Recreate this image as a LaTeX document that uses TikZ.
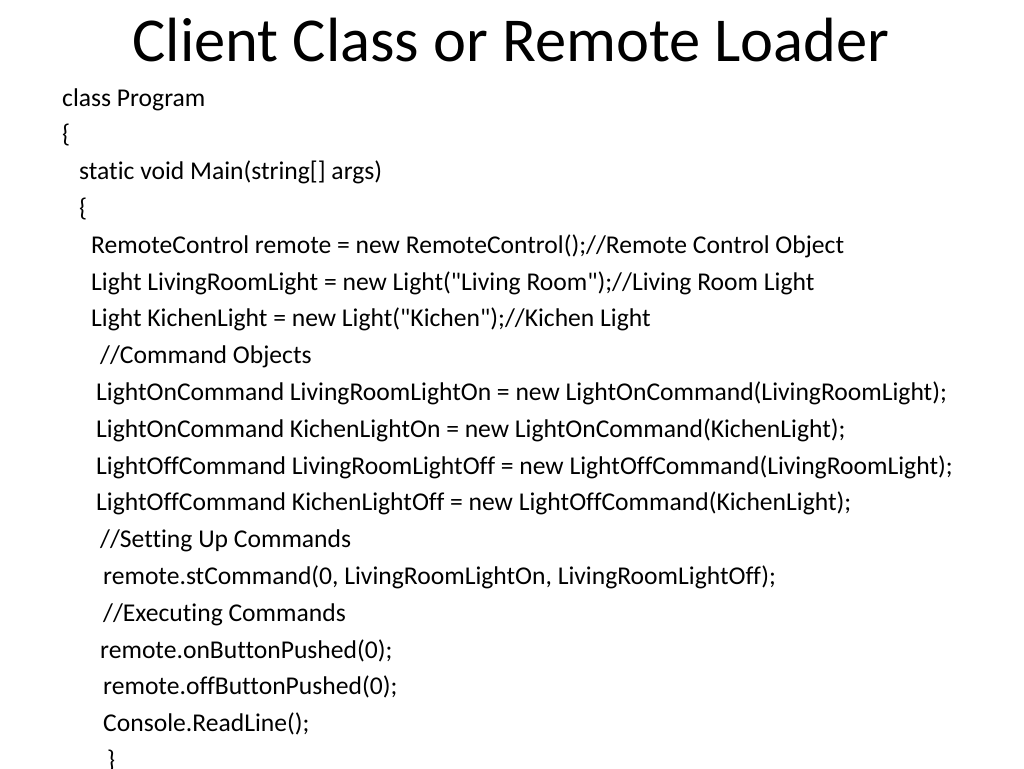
\documentclass[tikz,border=0pt]{standalone}
\usepackage{fontspec}
\newfontfamily\slidefont{Carlito}[Ligatures=NoCommon]
\begin{document}
\begin{tikzpicture}[x=1pt,y=-1pt,
  code/.style={anchor=base west,inner sep=0pt,font=\slidefont\fontsize{25.6}{25.6}\selectfont},
  ttl/.style={anchor=base,inner sep=0pt,font=\slidefont\fontsize{62.5}{62.5}\selectfont}]
\useasboundingbox[fill=white] (0,0) rectangle (1024,768);
\node[ttl] (title) at (511,62) {Client Class or Remote Loader};
\node[code] (l0) at (62,{106+36.8*0}) {class Program};
\node[code] (l1) at (62,{106+36.8*1}) {\{};
\node[code] (l2) at (79,{106+36.8*2}) {static void Main(string[] args)};
\node[code] (l3) at (79,{106+36.8*3}) {\{};
\node[code] (l4) at (91,{106+36.8*4}) {RemoteControl remote = new RemoteControl();//Remote Control Object};
\node[code] (l5) at (91,{106+36.8*5}) {Light LivingRoomLight = new Light("Living Room");//Living Room Light};
\node[code] (l6) at (91,{106+36.8*6}) {Light KichenLight = new Light("Kichen");//Kichen Light};
\node[code] (l7) at (100,{106+36.8*7}) {//Command Objects};
\node[code] (l8) at (96,{106+36.8*8}) {LightOnCommand LivingRoomLightOn = new LightOnCommand(LivingRoomLight);};
\node[code] (l9) at (96,{106+36.8*9}) {LightOnCommand KichenLightOn = new LightOnCommand(KichenLight);};
\node[code] (l10) at (96,{106+36.8*10}) {LightOffCommand LivingRoomLightOff = new LightOffCommand(LivingRoomLight);};
\node[code] (l11) at (96,{106+36.8*11}) {LightOffCommand KichenLightOff = new LightOffCommand(KichenLight);};
\node[code] (l12) at (100,{106+36.8*12}) {//Setting Up Commands};
\node[code] (l13) at (103,{106+36.8*13}) {remote.stCommand(0, LivingRoomLightOn, LivingRoomLightOff);};
\node[code] (l14) at (103,{106+36.8*14}) {//Executing Commands};
\node[code] (l15) at (100,{106+36.8*15}) {remote.onButtonPushed(0);};
\node[code] (l16) at (103,{106+36.8*16}) {remote.offButtonPushed(0);};
\node[code] (l17) at (103,{106+36.8*17}) {Console.ReadLine();};
\node[code] (l18) at (107,{106+36.8*18}) {\}};
\end{tikzpicture}
\end{document}
